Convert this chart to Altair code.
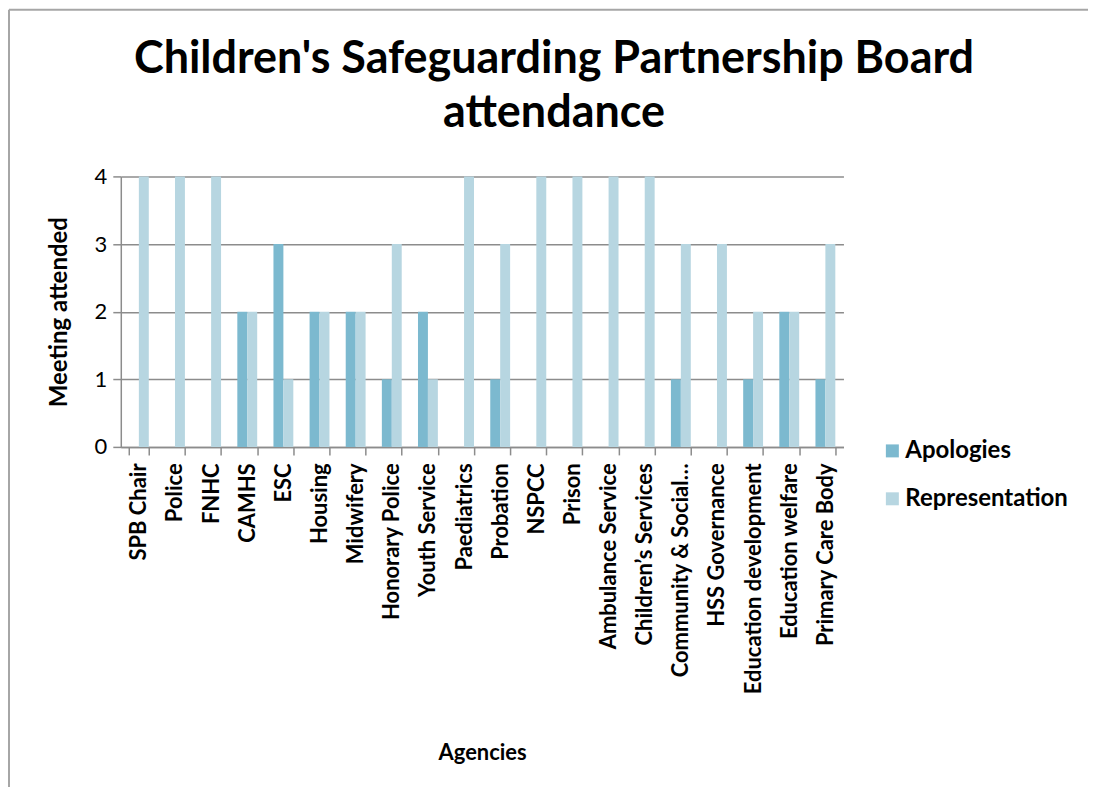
import altair as alt
import pandas as pd

agencies = ["SPB Chair", "Police", "FNHC", "CAMHS", "ESC", "Housing", "Midwifery",
            "Honorary Police", "Youth Service", "Paediatrics", "Probation", "NSPCC",
            "Prison", "Ambulance Service", "Children\u2019s Services",
            "Community & Social\u2026", "HSS Governance", "Education development",
            "Education welfare", "Primary Care Body"]
apologies = [0, 0, 0, 2, 3, 2, 2, 1, 2, 0, 1, 0, 0, 0, 0, 1, 0, 1, 2, 1]
representation = [4, 4, 4, 2, 1, 2, 2, 3, 1, 4, 3, 4, 4, 4, 4, 3, 3, 2, 2, 3]
series = ["Apologies", "Representation"]
colors = ["#7cb9cf", "#b7d6e1"]

rows = []
for i, a in enumerate(agencies):
    rows.append({"agency": a, "series": "Apologies", "value": apologies[i]})
    rows.append({"agency": a, "series": "Representation", "value": representation[i]})
df = pd.DataFrame(rows)

FONT = "Lato"

bars = alt.Chart(df).mark_bar().encode(
    x=alt.X("agency:N", sort=agencies, title="Agencies",
            scale=alt.Scale(paddingInner=0.45, paddingOuter=0.225),
            axis=alt.Axis(labelAngle=-90, labelFontWeight="bold", labelFontSize=22,
                          labelColor="#000000", labelPadding=8, tickSize=8,
                          tickBand="extent", tickColor="#8c8c8c", tickWidth=1.5,
                          domainColor="#8c8c8c", domainWidth=1.5, grid=False,
                          titleFontSize=22, titleFontWeight="bold", titleColor="#000000",
                          titleY=306, titleBaseline="middle", labelLimit=320)),
    xOffset=alt.XOffset("series:N", sort=series, scale=alt.Scale(paddingInner=0, paddingOuter=0)),
    y=alt.Y("value:Q", title="Meeting attended",
            scale=alt.Scale(domain=[0, 4], nice=False),
            axis=alt.Axis(values=[0, 1, 2, 3, 4], format="d", labelFontSize=22,
                          labelColor="#000000", labelPadding=6, tickSize=8,
                          tickColor="#8c8c8c", tickWidth=1.5, domainColor="#8c8c8c",
                          domainWidth=1.5, gridColor="#8c8c8c", gridWidth=1.5,
                          titleFontSize=24, titleFontWeight="bold", titleColor="#000000",
                          titleX=-61, titleBaseline="middle")),
    color=alt.Color("series:N", sort=series,
                    scale=alt.Scale(domain=series, range=colors),
                    legend=alt.Legend(title=None, orient="none", legendX=761, legendY=263,
                                      symbolType="square", symbolSize=169,
                                      symbolStrokeWidth=0, labelFontSize=24,
                                      labelFontWeight="bold", labelColor="#000000",
                                      rowPadding=24, labelOffset=1, labelLimit=300)),
)

frame_df = pd.DataFrame({"k": [0]})
left_line = alt.Chart(frame_df).mark_rule(color="#a6a6a6", strokeWidth=2).encode(
    x=alt.value(-112), y=alt.value(-167), y2=alt.value(700))
top_line = alt.Chart(frame_df).mark_rule(color="#a6a6a6", strokeWidth=2).encode(
    x=alt.value(-112), x2=alt.value(1000), y=alt.value(-167))

chart = alt.layer(bars, left_line, top_line).properties(
    width=724, height=271,
    autosize=alt.AutoSizeParams(type="none"),
    padding={"left": 113, "top": 168, "right": 245, "bottom": 340},
    title=alt.TitleParams(["Children's Safeguarding Partnership Board", "attendance"],
                          fontSize=45, fontWeight="bold", color="#000000",
                          anchor="middle", frame="group", dx=72, offset=-128,
                          lineHeight=55, font=FONT),
).configure(font=FONT).configure_view(stroke=None)

chart.save("out.html", embed_options={"renderer": "svg", "actions": False})
